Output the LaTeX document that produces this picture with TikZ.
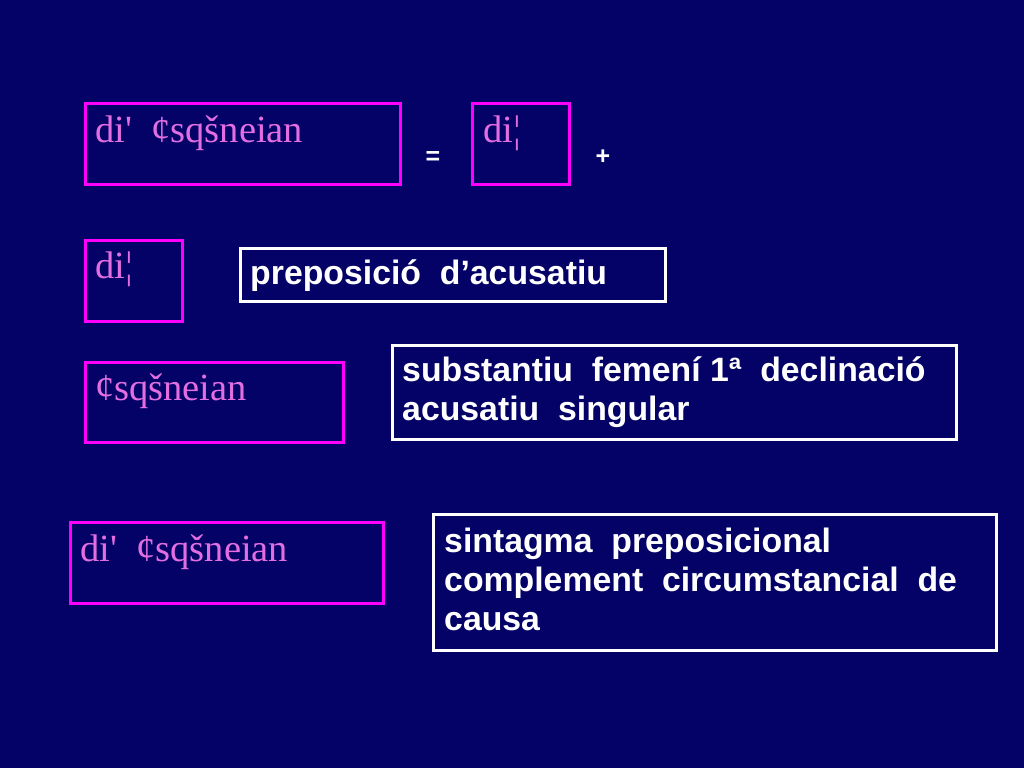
\documentclass[tikz,border=0pt]{standalone}
\usepackage{fontspec}
\setmainfont{Liberation Serif}
\newfontfamily\gkfont{Liberation Serif}[Ligatures=TeXOff]
\newfontfamily\lsans{Liberation Sans}
\definecolor{bgnavy}{RGB}{4,2,102}
\definecolor{magline}{RGB}{255,0,255}
\definecolor{pinktxt}{RGB}{226,110,226}
\begin{document}
\begin{tikzpicture}[x=1pt,y=-1pt,
  magbox/.style={draw=magline,line width=3pt,anchor=north west,inner sep=0pt},
  whbox/.style={draw=white,line width=3pt,anchor=north west,inner sep=0pt},
  gk/.style={text=pinktxt,font=\gkfont\fontsize{38.5}{44}\selectfont,anchor=base west,inner sep=0pt},
  lbl/.style={text=white,font=\lsans\bfseries\fontsize{33.8}{38.8}\selectfont,anchor=base west,inner sep=0pt,align=left},
  sym/.style={text=white,font=\lsans\bfseries\fontsize{25}{28}\selectfont,inner sep=0pt}]
\fill[bgnavy] (0,0) rectangle (1024,768);
\useasboundingbox (0,0) rectangle (1024,768);
% magenta boxes
\node[magbox,minimum width=315pt,minimum height=81pt] (b1) at (84,102) {};
\node[magbox,minimum width=97pt,minimum height=81pt] (b2) at (471,102) {};
\node[magbox,minimum width=97pt,minimum height=81pt] (b3) at (84,239) {};
\node[magbox,minimum width=258pt,minimum height=80pt] (b4) at (84,361) {};
\node[magbox,minimum width=313pt,minimum height=81pt] (b5) at (69,521) {};
% white boxes
\node[whbox,minimum width=425pt,minimum height=53pt] (w1) at (239,247) {};
\node[whbox,minimum width=564pt,minimum height=94pt] (w2) at (391,344) {};
\node[whbox,minimum width=563pt,minimum height=136pt] (w3) at (432,513) {};
% texts in magenta boxes
\node[gk] (t1) at (95,142) {di'\ \ ¢sqšneian};
\node[gk] (t2) at (483,142) {di¦};
\node[gk] (t3) at (95,278) {di¦};
\node[gk] (t4) at (95,400) {¢sqšneian};
\node[gk] (t5) at (80,561) {di'\ \ ¢sqšneian};
% symbols
\node[sym] (eq) at (433,158) {=};
\node[sym] (plus) at (603,157) {+};
% labels in white boxes
\node[lbl] (l1) at (250,284) {preposició\ \ d’acusatiu};
\node[lbl] (l2) at (402,420) {substantiu\ \ femení 1ª\ \ declinació\\acusatiu\ \ singular};
\node[lbl] (l3) at (444,630) {sintagma\ \ preposicional\\complement\ \ circumstancial\ \ de\\causa};
\end{tikzpicture}
\end{document}
